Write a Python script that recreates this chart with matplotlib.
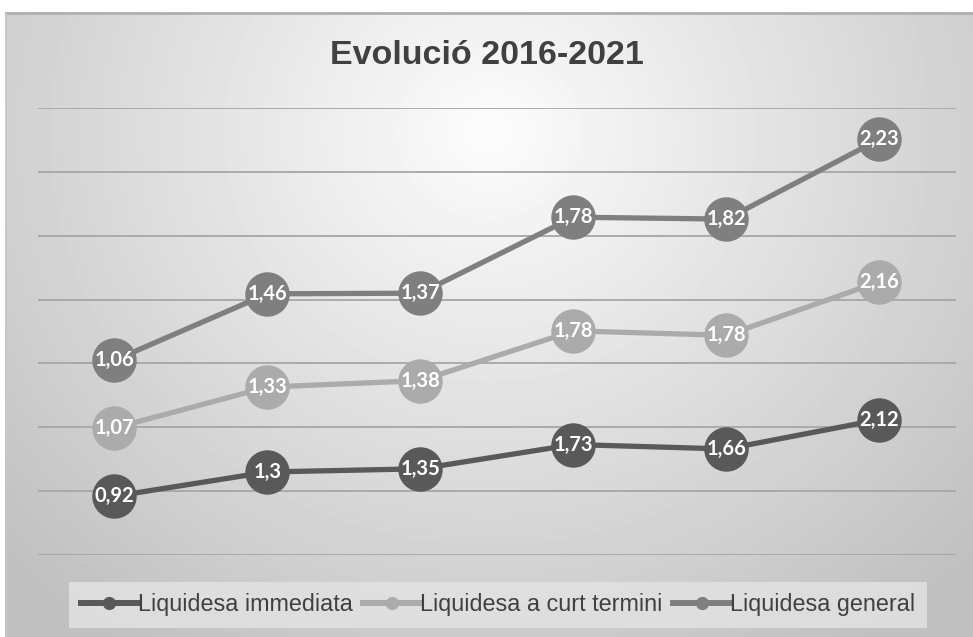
import numpy as np
import matplotlib
matplotlib.use("Agg")
from matplotlib import pyplot as plt
from matplotlib.lines import Line2D

years = ["2016", "2017", "2018", "2019", "2020", "2021"]
immediata = [0.92, 1.3, 1.35, 1.73, 1.66, 2.12]
curt = [1.07, 1.33, 1.38, 1.78, 1.78, 2.16]
general = [1.06, 1.46, 1.37, 1.78, 1.82, 2.23]
names = ["Liquidesa immediata", "Liquidesa a curt termini", "Liquidesa general"]
colors = ["#595959", "#ababab", "#7f7f7f"]

W, H = 973, 637
fig = plt.figure(figsize=(W / 100, H / 100), dpi=100)
fig.patch.set_facecolor("white")

# chart area with radial grey gradient
bg = fig.add_axes([5 / W, 0, 968 / W, 625 / H])
bg.set_axis_off()
yy, xx = np.mgrid[0:625, 0:968]
r = np.sqrt(((xx - 484) / 640.0) ** 2 + ((yy - 120) / 600.0) ** 2)
shade = np.clip(0.99 - 0.23 * r, 0.75, 1.0)
bg.imshow(shade, cmap="gray", vmin=0, vmax=1, aspect="auto", extent=[0, 968, 625, 0])
bg.set_xlim(0, 968)
bg.set_ylim(625, 0)
bg.plot([0, 968], [0.8, 0.8], color="#b0b0b0", lw=2)
bg.plot([0.5, 0.5], [0, 625], color="#c8c8c8", lw=1)

ax = fig.add_axes([38 / W, (H - 555) / H, 918 / W, (555 - 108) / H])
ax.patch.set_alpha(0)
ax.set_xlim(-0.5, len(years) - 0.5)
ax.set_ylim(0, 7)
ax.set_yticks(range(0, 8))
ax.grid(axis="y", color="#a6a6a6", lw=1.3)
ax.set_axisbelow(True)
ax.tick_params(left=False, bottom=False, labelleft=False, labelbottom=False)
for s in ax.spines.values():
    s.set_visible(False)

# stacked lines, labels show each series' own value
x = np.arange(len(years))
base = np.zeros(len(years))
for vals, name, c in zip([immediata, curt, general], names, colors):
    top = base + np.array(vals)
    ax.plot(x, top, color=c, lw=3.8, marker="o", markersize=32,
            markeredgewidth=0, label=name, zorder=3)
    for xi, yi, v in zip(x, top, vals):
        ax.text(xi, yi, f"{v:g}".replace(".", ","), color="white",
                fontsize=14.5, fontweight="bold", family=["Lato", "DejaVu Sans"],
                ha="center", va="center", zorder=4)
    base = top

fig.text(0.5, (H - 55) / H, "Evolució 2016-2021", ha="center", va="center",
         fontsize=24.5, fontweight="bold", color="#404040", family="Liberation Sans")

# legend
handles = [Line2D([0], [0], color=c, lw=4.3, marker="o", markersize=8.5) for c in colors]
leg = fig.legend(handles, names, loc="center", bbox_to_anchor=(498 / W, (H - 605) / H),
                 ncol=3, frameon=True, handlelength=2.45,
                 handletextpad=0.0, columnspacing=0.45, borderpad=0.15,
                 prop={"family": "Liberation Sans", "size": 16.8})
leg.get_frame().set_facecolor("#e2e2e2")
leg.get_frame().set_alpha(0.85)
leg.get_frame().set_edgecolor("none")
leg.get_frame().set_boxstyle("square", pad=0.35)
for t in leg.get_texts():
    t.set_color("#404040")

fig.savefig("out.png", dpi=100)
